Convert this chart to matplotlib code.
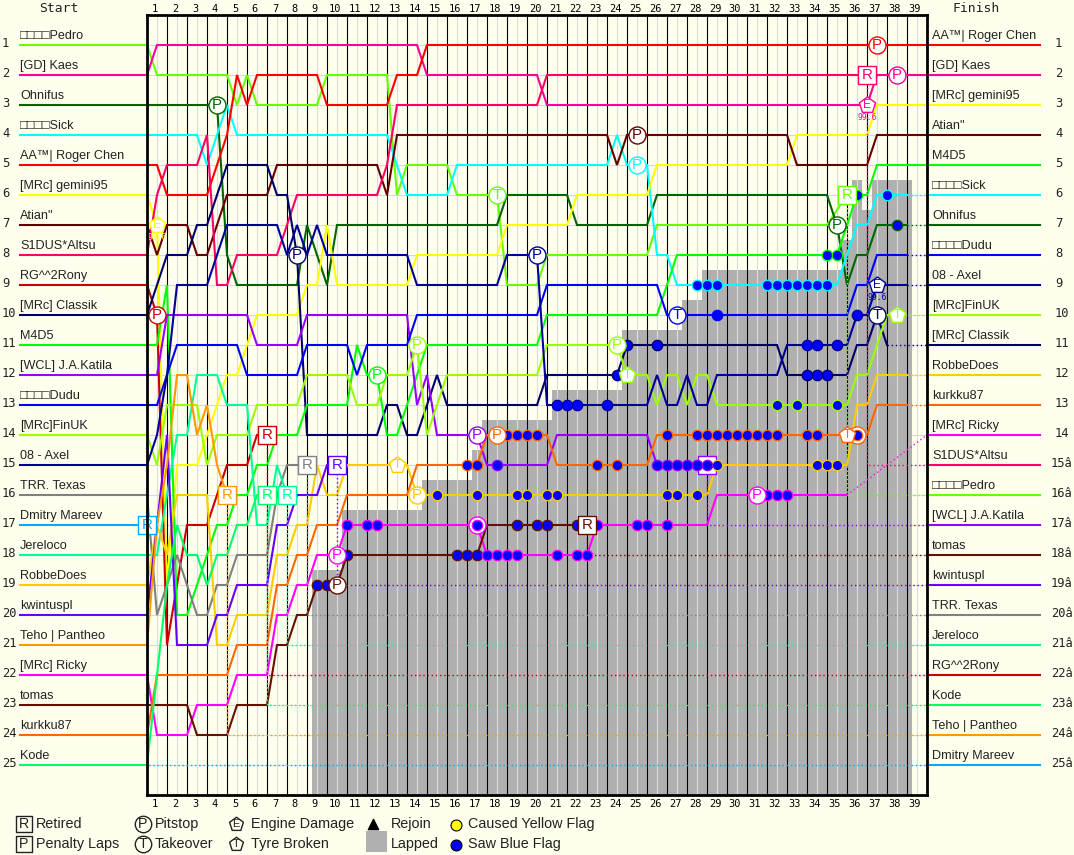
"""Lap chart of a 39 lap race: position of each driver per half lap."""

import matplotlib
matplotlib.use("Agg")
import matplotlib.pyplot as plt
import numpy as np

WIDTH, HEIGHT = 1074, 855
BG = "#ffffee"
LAPPED = "#b0b0b0"
TEXT = "#222222"
SANS = ["Liberation Sans", "DejaVu Sans"]
MONO = "DejaVu Sans Mono"

n_laps = 39
n_rows = 25

start_names = ["□□□□Pedro", "[GD] Kaes", "Ohnifus", "□□□□Sick", "AA™| Roger Chen", "[MRc] gemini95",
               'Atian"', "S1DUS*Altsu", "RG^^2Rony", "[MRc] Classik", "M4D5", "[WCL] J.A.Katila",
               "□□□□Dudu", "[MRc]FinUK", "08 - Axel", "TRR. Texas", "Dmitry Mareev", "Jereloco",
               "RobbeDoes", "kwintuspl", "Teho | Pantheo", "[MRc] Ricky", "tomas", "kurkku87", "Kode"]

finish_names = ["AA™| Roger Chen", "[GD] Kaes", "[MRc] gemini95", 'Atian"', "M4D5", "□□□□Sick", "Ohnifus",
                "□□□□Dudu", "08 - Axel", "[MRc]FinUK", "[MRc] Classik", "RobbeDoes", "kurkku87",
                "[MRc] Ricky", "S1DUS*Altsu", "□□□□Pedro", "[WCL] J.A.Katila", "tomas", "kwintuspl",
                "TRR. Texas", "Jereloco", "RG^^2Rony", "Kode", "Teho | Pantheo", "Dmitry Mareev"]

finish_ranks = [str(i) for i in range(1, 15)] + [f"{i}â" for i in range(15, 26)]

colors = ["#66ff00", "#ff0099", "#006600", "#00ffff", "#ff0000", "#ffff00",
          "#660000", "#ff0066", "#cc0000", "#000066", "#00ff00", "#9900ff",
          "#0000ff", "#99ff00", "#000099", "#808080", "#00aaff", "#00ff99",
          "#ffcc00", "#6600ff", "#ff9900", "#ff00ff", "#661100", "#ff6600", "#00ff66"]

# (lap, position) breakpoints, straight between them
pedro = [(0, 1), (0.5, 2), (4, 2), (4.5, 3), (5, 2), (5.5, 3), (8.5, 3), (9, 2), (12, 2), (12.5, 6), (13, 5), (15, 5),
         (15.5, 6), (17.5, 6), (18, 9), (19.5, 9), (20, 8), (25, 8), (25.5, 7), (34, 7), (35, 6)]
kaes = [(0, 2), (0.5, 1), (13.5, 1), (14, 2), (19.5, 2), (20, 3), (36, 3), (36.5, 2), (39, 2)]
ohnifus = [(0, 3), (3.5, 3), (4, 8), (4.5, 9), (7.5, 9), (8, 7), (9, 9), (9.5, 7), (17.5, 7), (18, 6), (21, 6),
           (21.5, 7), (25, 7), (25.5, 6), (34, 6), (34.5, 7), (35, 9), (35.5, 8), (36, 8), (36.5, 7), (38, 7)]
sick = [(0, 4), (2.5, 4), (3, 5), (4, 3), (4.5, 4), (12, 4), (13, 6), (15, 6), (15.5, 5), (23, 5), (23.5, 4), (24, 5),
        (25, 5), (25.5, 8), (26, 8), (26.5, 9), (34.5, 9), (35.5, 7), (36, 7), (36.5, 6), (38, 6)]
roger = [(0, 5), (0.5, 5), (1, 6), (3, 6), (3.5, 5), (4, 4), (4.5, 2), (5, 3), (5.5, 2), (8.5, 2), (9, 3), (12, 3),
         (12.5, 2), (13.5, 2), (14, 1), (39, 1)]
gemini = [(0, 6), (0.5, 7), (1, 19), (1.5, 15), (2.5, 15), (4, 12), (4.5, 12), (5.5, 10), (7.5, 10), (8, 9), (8.5, 9),
          (9, 7), (9.5, 9), (13, 9), (13.5, 8), (17.5, 8), (18, 7), (21, 7), (21.5, 6), (25, 6), (25.5, 5), (32, 5),
          (32.5, 4), (36, 4), (36.5, 3), (39, 3)]
atian = [(0, 7), (0.5, 8), (1, 7), (2, 7), (2.5, 8), (3, 8), (4, 6), (6, 6), (6.5, 5), (11.5, 5), (12, 6), (12.5, 4),
         (23, 4), (23.5, 5), (24, 4), (32, 4), (32.5, 5), (36, 5), (36.5, 4), (39, 4)]
s1dus = [(0, 8), (0.5, 6), (1, 5), (2.5, 5), (3, 4), (3.5, 9), (4, 9), (4.5, 8), (6.5, 8), (7.5, 6), (11.5, 6),
         (12, 5), (12.5, 3), (19.5, 3), (20, 2), (36, 2)]
rony = [(0, 9), (0.5, 10), (1, 21), (2, 17), (3, 17), (4, 15), (5, 15), (5.5, 14), (6, 14)]
classik = [(0, 10), (0.5, 9), (1, 8), (2, 8), (2.5, 7), (3, 7), (4, 5), (6, 5), (6.5, 6), (7, 6), (7.5, 8), (8, 14),
           (11.5, 14), (12, 13), (12.5, 13), (13, 14), (13.5, 14), (14.5, 12), (15, 13), (19.5, 13), (20, 12),
           (23.5, 12), (24, 11), (31.5, 11), (32, 12), (35, 12), (35.5, 11), (36, 11), (36.5, 10), (37, 11)]
m4d5 = [(0, 11), (0.5, 11), (1, 9), (1.5, 20), (2, 20), (3.5, 17), (4, 17), (4.5, 16), (5, 16), (5.5, 15), (6, 15),
        (6.5, 14), (7.5, 14), (8, 13), (10, 13), (10.5, 11), (11, 12), (11.5, 12), (12, 14), (12.5, 14), (14, 11),
        (19.5, 11), (20, 10), (25.5, 10), (26, 9), (26.5, 8), (34.5, 8), (35.5, 6), (36, 6), (36.5, 5), (39, 5)]
katila = [(0, 12), (0.5, 12), (1, 10), (5, 10), (5.5, 11), (7.5, 11), (8, 10), (13, 10), (13.5, 13), (14, 12),
          (14.5, 14), (16.5, 14), (17, 15), (20, 15), (20.5, 14), (25, 14), (25.5, 15), (28, 15)]
dudu = [(0, 13), (0.5, 13), (1.5, 11), (4.5, 11), (5, 12), (7.5, 12), (8, 11), (10, 11), (10.5, 12), (11, 11),
        (13, 11), (13.5, 10), (19.5, 10), (20, 9), (25.5, 9), (26, 10), (35, 10), (35.5, 9), (36, 9), (36.5, 8), (38, 8)]
finuk = [(0, 14), (0.5, 15), (1, 13), (2.5, 13), (3, 15), (3.5, 14), (5, 14), (5.5, 13), (7.5, 13), (8, 12), (10, 12),
         (10.5, 13), (11.5, 13), (12, 12), (13, 12), (13.5, 11), (14, 14), (14.5, 13), (15, 12), (19.5, 12), (20, 11),
         (23.5, 11), (24, 12), (25, 12), (25.5, 13), (26, 12), (26.5, 12), (27, 13), (27.5, 12), (28, 12), (28.5, 13),
         (35, 13), (35.5, 12), (36, 12), (37, 10), (37.5, 10)]
axel = [(0, 15), (0.5, 14), (1, 12), (1.5, 9), (3, 9), (4, 7), (6.5, 7), (7, 8), (7.5, 7), (8, 8), (8.5, 7), (9, 8),
        (13, 8), (13.5, 9), (17.5, 9), (18, 8), (19.5, 8), (20, 13), (25, 13), (25.5, 12), (26, 13), (26.5, 13),
        (27, 12), (27.5, 13), (28, 13), (28.5, 12), (31.5, 12), (32, 11), (35, 11), (35.5, 10), (36, 10), (36.5, 9), (38, 9)]
texas = [(0, 16), (0.5, 20), (1.5, 18), (2, 19), (2.5, 20), (3, 20), (3.5, 19), (4, 19), (4.5, 18), (6, 18),
         (6.5, 16), (7, 15), (8, 15)]
mareev = [(0, 17)]
jereloco = [(0, 18), (0.5, 18), (1, 16), (1.5, 14), (2, 14), (2.5, 12), (3.5, 12), (4, 13), (5, 13), (5.5, 17), (6, 17),
            (6.5, 15), (7, 16)]
robbe = [(0, 19), (0.5, 17), (1, 18), (1.5, 16), (3, 16), (3.5, 21), (4, 21), (4.5, 20), (6, 20), (6.5, 18), (7, 18),
         (7.5, 17), (8, 17), (8.5, 15), (9, 16), (9.5, 16), (10, 15), (13, 15), (13.5, 16), (28, 16), (28.5, 15), (35, 15),
         (35.5, 13), (36, 13), (36.5, 12), (38, 12)]
kwintuspl = [(0, 20), (0.5, 17), (1, 14), (1.5, 21), (3, 21), (3.5, 20), (4, 20), (4.5, 19), (6, 19), (6.5, 17),
             (7, 17), (7.5, 16), (8.5, 16), (9, 15), (9.5, 15)]
teho = [(0, 21), (0.5, 17), (1, 15), (1.5, 12), (2, 12), (2.5, 14), (3, 13), (3.5, 15), (4, 16)]
ricky = [(0, 22), (0.5, 24), (2, 24), (2.5, 23), (4, 23), (4.5, 22), (6, 22), (6.5, 20), (7, 20), (7.5, 19), (8, 19),
         (8.5, 18), (9.5, 18), (10, 17), (16.5, 17), (17, 18), (22, 18), (22.5, 17), (28, 17), (28.5, 16), (35, 16)]
tomas = [(0, 23), (2, 23), (2.5, 24), (4, 24), (4.5, 23), (6, 23), (6.5, 21), (7, 21), (7.5, 20), (8, 20), (8.5, 19),
         (9.5, 19), (10, 18), (16.5, 18), (17, 17), (22, 17)]
kurkku = [(0, 24), (0.5, 22), (4, 22), (4.5, 21), (6, 21), (6.5, 19), (7, 19), (7.5, 18), (8, 18), (8.5, 17), (9.5, 17),
          (10, 16), (13, 16), (13.5, 15), (16.5, 15), (17, 14), (20, 14), (20.5, 15), (25, 15), (25.5, 14), (36, 14),
          (36.5, 13), (38, 13)]
kode = [(0, 25), (0.5, 22), (1, 19), (1.5, 17), (2, 18), (2.5, 18), (3, 19), (3.5, 18), (4, 18), (4.5, 17), (5, 17),
        (5.5, 16), (6, 16)]

paths = [pedro, kaes, ohnifus, sick, roger, gemini, atian, s1dus, rony, classik, m4d5, katila, dudu, finuk, axel,
         texas, mareev, jereloco, robbe, kwintuspl, teho, ricky, tomas, kurkku, kode]

# retired drivers fall straight down to their final row
retired = [s1dus, pedro, rony, kode, jereloco, texas, kwintuspl, tomas, teho, mareev, katila]

# lapped zone: left edge of each step and the row its top sits on
lapped_edges = [8.25, 9.75, 13.75, 16.25, 16.75, 20.25, 23.75, 26.75, 27.75, 34.75, 35.25, 35.75, 36.25, 38.25]
lapped_tops = [18.5, 16.5, 15.5, 14.5, 13.5, 12.5, 10.5, 9.5, 8.5, 7.5, 5.5, 6.5, 5.5]

# saw blue flag, laps per driver
blue_flags = [
    (tomas, [8.5, 9, 10, 15.5, 16, 16.5, 18.5, 19.5, 20, 21.5]),
    (ricky, [10, 11, 11.5, 16.5, 17, 17.5, 18, 18.5, 20.5, 21.5, 22, 22.5, 24.5, 25, 26, 31, 31.5, 32]),
    (robbe, [14.5, 16.5, 18.5, 19, 20, 20.5, 26, 26.5, 27.5, 28.5, 33.5, 34, 34.5]),
    (kurkku, [16, 16.5, 18, 18.5, 19, 19.5, 22.5, 23.5, 26, 27.5, 28, 28.5, 29, 29.5, 30, 30.5, 31, 31.5, 33, 33.5, 35.5]),
    (katila, [17.5, 25.5, 26, 26.5, 27, 27.5, 28]),
    (axel, [20.5, 21, 21.5, 23, 33, 33.5, 34.5, 35.5]),
    (classik, [23.5, 24, 25.5, 33, 33.5, 34]),
    (finuk, [31.5, 32.5, 34.5]),
    (dudu, [28.5]),
    (sick, [27.5, 28, 28.5, 31, 31.5, 32, 32.5, 33, 33.5, 34, 37]),
    (m4d5, [34, 34.5, 35.5]),
    (ohnifus, [37.5]),
]

pit_stops = [(ohnifus, 3.5), (rony, 0.5), (classik, 7.5), (tomas, 9.5), (ricky, 9.5), (m4d5, 11.5), (finuk, 13.5),
             (robbe, 13.5), (katila, 16.5), (kurkku, 17.5), (axel, 19.5), (finuk, 23.5), (atian, 24.5), (sick, 24.5),
             (ricky, 30.5), (ohnifus, 34.5), (roger, 36.5), (kaes, 37.5)]
pit_stops_under_flag = [(ricky, 16.5), (kurkku, 35.5)]
takeovers = [(pedro, 17.5), (dudu, 26.5), (classik, 36.5)]
tyres = [(robbe, 12.5), (finuk, 24), (kurkku, 35), (finuk, 37.5)]
engines = [(gemini, 0.5, "98.6"), (kaes, 36, "99.6"), (axel, 36.5, "99.6")]
retire_marks = [(mareev, 0), (teho, 4), (rony, 6), (kode, 6), (jereloco, 7), (texas, 8), (kwintuspl, 9.5),
                (tomas, 22), (pedro, 35), (s1dus, 36)]
penalties = [(katila, 28)]


def px_x(px):
    return (px - 147) / 20


def px_y(py):
    return (py - 15) / 30


def row_at(path, lap):
    laps, rows = zip(*path)
    return np.interp(lap, laps, rows)


def color_of(path):
    return colors[[p is path for p in paths].index(True)]


plt.rcParams["font.family"] = SANS
fig = plt.figure(figsize=(WIDTH / 100, HEIGHT / 100), dpi=100, facecolor=BG)
ax = fig.add_axes([147 / WIDTH, 1 - 795 / HEIGHT, 780 / WIDTH, 780 / HEIGHT], facecolor=BG)
ax.set_xlim(0, n_laps)
ax.set_ylim(n_rows + 1, 0)
ax.set_xticks([])
ax.set_yticks([])
for spine in ax.spines.values():
    spine.set_linewidth(2.0)
    spine.set_zorder(20)

ax.hlines(range(1, n_rows + 1), 0, n_laps, color="#d8d8d8", lw=0.8, zorder=1)
for left, right, top in zip(lapped_edges[:-1], lapped_edges[1:], lapped_tops):
    ax.fill_between([left, right], top, n_rows + 1, color=LAPPED, lw=0, zorder=2)
ax.vlines(np.arange(0.5, n_laps), 0, n_rows + 1, color="#dcdcdc", lw=0.8, zorder=3)
ax.vlines(range(1, n_laps), 0, n_rows + 1, color="black", lw=0.8, zorder=3)

# driver lines, start and finish stubs
for name, color, path in zip(start_names, colors, paths):
    laps, rows = zip(*path)
    ax.plot(laps, rows, color=color, lw=1.5, zorder=5, solid_joinstyle="miter")
    start_row = rows[0]
    final_row = finish_names.index(name) + 1
    ax.plot([px_x(20), 0], [start_row, start_row], color=color, lw=1.5, clip_on=False, zorder=5)
    ax.plot([n_laps, px_x(1040)], [final_row, final_row], color=color, lw=1.5, clip_on=False, zorder=5)
    ax.text(px_x(20), start_row - 0.3, name, fontsize=9.1, color=TEXT, va="center", ha="left", clip_on=False)
    ax.text(px_x(932), final_row - 0.3, name, fontsize=9.1, color=TEXT, va="center", ha="left", clip_on=False)
    ax.text(px_x(2), start_row - 0.05, str(int(start_row)), fontsize=8.7, family=MONO, color=TEXT, va="center", ha="left")
    if any(path is p for p in retired):
        ax.plot([laps[-1], laps[-1], n_laps], [rows[-1], final_row, final_row], color=color, lw=1, ls=(0, (1, 2)), zorder=6)
    elif laps[-1] < n_laps:
        ax.plot([laps[-1], n_laps], [rows[-1], final_row], color=color, lw=1, ls=(0, (1, 2)), zorder=6)

# the long ranks need a little room before the right edge
for row, rank in enumerate(finish_ranks, start=1):
    rank_px = 1051 if len(rank) > 2 else 1055
    ax.text(px_x(rank_px), row - 0.05, rank, fontsize=8.7, family=MONO, color=TEXT, va="center", ha="left", clip_on=False)

for lap in range(1, n_laps + 1):
    ax.text(lap - 0.6, px_y(8.5), str(lap), fontsize=7.5, family=MONO, color="black", ha="center", va="center")
    ax.text(lap - 0.6, px_y(804), str(lap), fontsize=7.5, family=MONO, color="black", ha="center", va="center")
ax.text(px_x(59), px_y(9), "Start", fontsize=9.4, family=MONO, color=TEXT, ha="center", va="center")
ax.text(px_x(976), px_y(9), "Finish", fontsize=9.4, family=MONO, color=TEXT, ha="center", va="center")

# blue flags
for path, laps in blue_flags:
    ax.scatter(laps, [row_at(path, lap) for lap in laps], s=56, facecolor="#0000ff", edgecolor=color_of(path),
               lw=0.9, zorder=8, clip_on=False)


def icon(x, y, marker, letter, color, size=150, zorder=9, fill="#ffffff", fontsize=10.8):
    ax.scatter([x], [y], s=size, marker=marker, facecolor=fill, edgecolor=color, lw=1, zorder=zorder, clip_on=False)
    ax.text(x, y + 0.01, letter, fontsize=fontsize, color=color, ha="center", va="center", zorder=zorder + 0.5, clip_on=False)


for path, lap in pit_stops:
    icon(lap, row_at(path, lap), "o", "P", color_of(path))
for path, lap in pit_stops_under_flag:
    icon(lap, row_at(path, lap), "o", "", color_of(path), zorder=7)
for path, lap in penalties:
    icon(lap, row_at(path, lap), "s", "", color_of(path), size=155, zorder=7)
for path, lap in takeovers:
    icon(lap, row_at(path, lap), "o", "T", color_of(path))
for path, lap in tyres:
    icon(lap, row_at(path, lap), "p", "T", color_of(path), size=150, fontsize=8.5)
for path, lap, pct in engines:
    row = row_at(path, lap)
    icon(lap, row, "p", "E", color_of(path), size=150, fontsize=8.5)
    ax.text(lap, row + 0.42, pct, fontsize=5.8, family=MONO, color=color_of(path), ha="center", va="center", zorder=10)
for path, lap in retire_marks:
    icon(lap, row_at(path, lap), "s", "R", color_of(path), size=155)

# legend, in the strip under the chart
for px, py, marker, letter in [(24, 824, "s", "R"), (24, 844, "s", "P"), (143, 824, "o", "P"), (143, 844, "o", "T"),
                               (236, 824, "p", "E"), (236, 844, "p", "T")]:
    icon(px_x(px), px_y(py), marker, letter, "#222222", size=140 if marker != "p" else 110, fill=BG,
         fontsize=10.3 if marker != "p" else 8)
ax.scatter([px_x(373)], [px_y(824)], s=55, marker="^", color="black", clip_on=False, zorder=9)
ax.fill_between([px_x(366), px_x(387)], px_y(831), px_y(852), color=LAPPED, lw=0, clip_on=False, zorder=9)
ax.scatter([px_x(456)], [px_y(825)], s=62, color="#ffff00", edgecolor="black", lw=0.8, clip_on=False, zorder=9)
ax.scatter([px_x(456)], [px_y(845)], s=62, color="#0000ff", edgecolor="black", lw=0.8, clip_on=False, zorder=9)

legend_labels = [(36, 824, "Retired"), (36, 844, "Penalty Laps"), (155, 824, "Pitstop"), (155, 844, "Takeover"),
                 (251, 824, "Engine Damage"), (251, 844, "Tyre Broken"), (391, 824, "Rejoin"), (391, 844, "Lapped"),
                 (468, 824, "Caused Yellow Flag"), (468, 844, "Saw Blue Flag")]
for px, py, label in legend_labels:
    ax.text(px_x(px), px_y(py), label, fontsize=10.4, color=TEXT, ha="left", va="center", clip_on=False)

fig.savefig("out.png", dpi=100, facecolor=BG)
